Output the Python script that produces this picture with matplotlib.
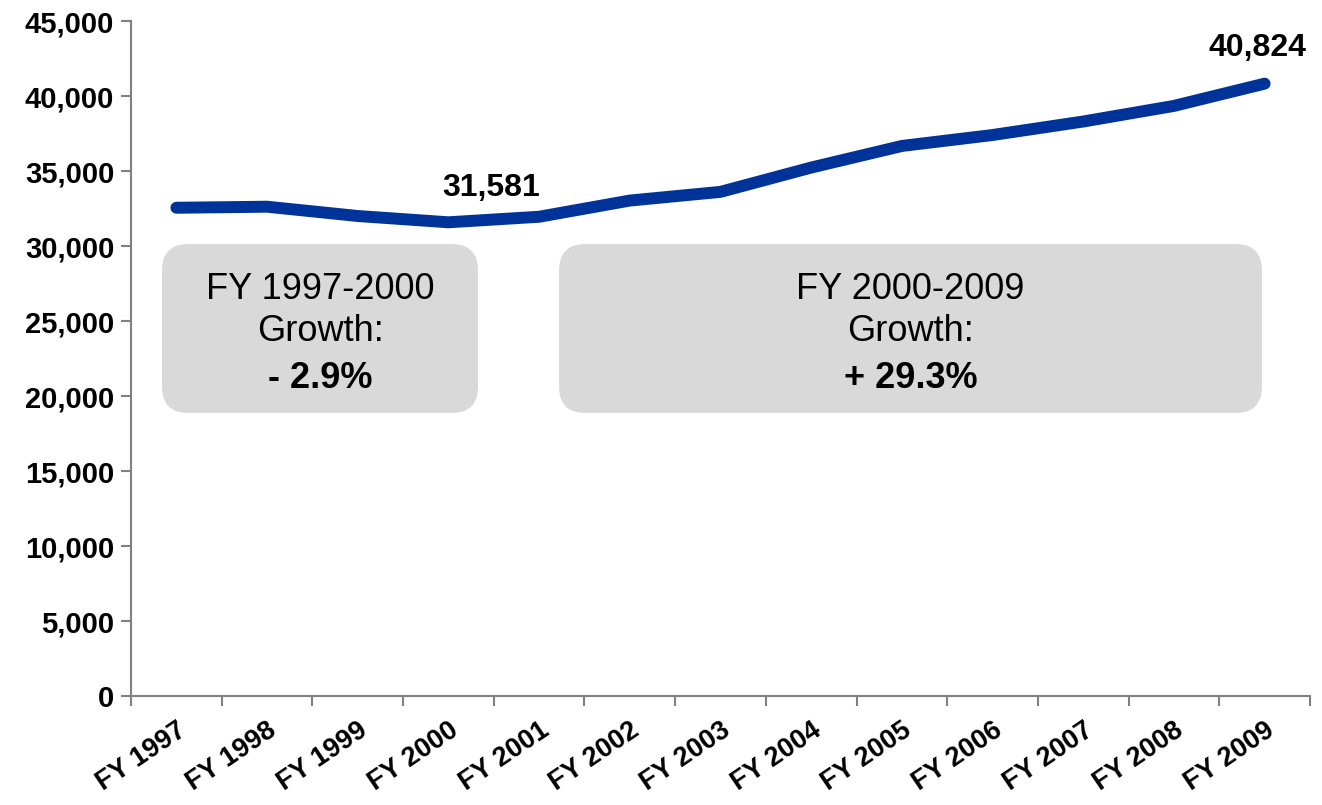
import matplotlib.pyplot as plt
from matplotlib.patches import FancyBboxPatch
from matplotlib.ticker import FuncFormatter, FixedLocator
import numpy as np

plt.rcParams["font.family"] = ["Liberation Sans", "DejaVu Sans"]

# === Data
years = ["FY 1997", "FY 1998", "FY 1999", "FY 2000", "FY 2001", "FY 2002", "FY 2003",
         "FY 2004", "FY 2005", "FY 2006", "FY 2007", "FY 2008", "FY 2009"]
values = [32550, 32620, 32000, 31581, 31950, 33030, 33610,
          35230, 36670, 37400, 38300, 39340, 40824]
labelled = {"FY 2000": "31,581", "FY 2009": "40,824"}
box_texts = [("FY 1997-2000", "Growth:", "- 2.9%"),
             ("FY 2000-2009", "Growth:", "+ 29.3%")]

line_color = "#003399"
spine_color = "#808080"

fig = plt.figure(figsize=(13.22, 8.05), dpi=100)
ax = fig.add_axes([0.0991, 0.1354, 0.8918, 0.8385])

x = np.arange(len(years))
ax.plot(x, values, color=line_color, linewidth=8.6, solid_capstyle="round",
        solid_joinstyle="round", zorder=3)

ax.set_xlim(-0.5, len(years) - 0.5)
ax.set_ylim(0, 45000)

# y axis
ax.set_yticks(np.arange(0, 45001, 5000))
ax.yaxis.set_major_formatter(FuncFormatter(lambda v, p: f"{int(v):,}"))
ax.tick_params(axis="y", direction="out", length=7, width=1.5, color=spine_color,
               labelsize=21, pad=5)
for t in ax.get_yticklabels():
    t.set_fontweight("bold")

# x axis: ticks on category boundaries, labels on centers
ax.xaxis.set_major_locator(FixedLocator(np.arange(-0.5, len(years), 1.0)))
ax.xaxis.set_minor_locator(FixedLocator(x))
ax.set_xticklabels([], minor=False)
ax.set_xticklabels(years, minor=True, rotation=34, ha="right",
                   rotation_mode="anchor", fontsize=19.5, fontweight="bold")
ax.tick_params(axis="x", which="major", direction="out", length=7, width=1.5,
               color=spine_color)
ax.tick_params(axis="x", which="minor", length=0, pad=15)

for side in ["top", "right"]:
    ax.spines[side].set_visible(False)
for side in ["left", "bottom"]:
    ax.spines[side].set_color(spine_color)
    ax.spines[side].set_linewidth(1.5)

# point labels
offsets = {"FY 2000": (31, 25), "FY 2009": (-5, 26)}
for name, txt in labelled.items():
    i = years.index(name)
    ax.annotate(txt, (x[i], values[i]), xytext=offsets[name], textcoords="offset points",
                ha="center", va="center", fontsize=23, fontweight="bold", zorder=4)

# grey rounded boxes
px_x = 1179 / 13.0
px_y = 675 / 45000.0
aspect = px_x / px_y
boxes = [(-0.158, 3.326), (4.22, 11.97)]
y_lo, y_hi = 18870, 30130
for (x0, x1), (l1, l2, l3) in zip(boxes, box_texts):
    patch = FancyBboxPatch((x0, y_lo), x1 - x0, y_hi - y_lo,
                           boxstyle="round,pad=0,rounding_size=0.29",
                           mutation_aspect=aspect, facecolor="#d9d9d9",
                           edgecolor="none", zorder=2)
    ax.add_patch(patch)
    cx = (x0 + x1) / 2
    ax.text(cx, 27130, l1, ha="center", va="center", fontsize=26, zorder=4)
    ax.text(cx, 24330, l2, ha="center", va="center", fontsize=26, zorder=4)
    ax.text(cx, 21150, l3, ha="center", va="center", fontsize=26,
            fontweight="bold", zorder=4)

fig.savefig("out.png", dpi=100)
